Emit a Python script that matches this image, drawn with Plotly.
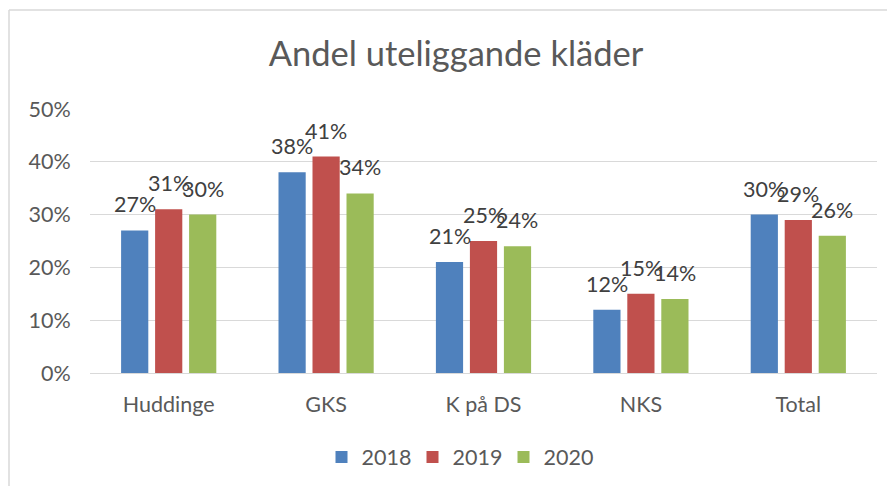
import plotly.graph_objects as go

categories = ["Huddinge", "GKS", "K på DS", "NKS", "Total"]
years = ["2018", "2019", "2020"]
v2018 = [0.27, 0.38, 0.21, 0.12, 0.30]
v2019 = [0.31, 0.41, 0.25, 0.15, 0.29]
v2020 = [0.30, 0.34, 0.24, 0.14, 0.26]
series = [v2018, v2019, v2020]
colors = ["#4f81bd", "#c0504d", "#9bbb59"]
title = "Andel uteliggande kläder"
tick_vals = [0, 0.1, 0.2, 0.3, 0.4, 0.5]
tick_text = ["0%", "10%", "20%", "30%", "40%", "50%"]

FONT = "Lato, 'Open Sans', sans-serif"
W, H = 895, 486
OFF = 8  # page body margin
ML, MR, MT, MB = 90 - OFF, 26, 109 - OFF, 121

fig = go.Figure()
for y, vals, c in zip(years, series, colors):
    fig.add_trace(go.Bar(x=categories, y=vals, name=y, marker=dict(color=c, line=dict(width=0))))

slot = (W - ML - MR) / len(categories) * (1 - 0.352) / 3
annotations = []
for i, vals in enumerate(series):
    for cat, v in zip(categories, vals):
        annotations.append(dict(x=cat, y=v, xref="x", yref="y", text=f"{round(v*100)}%",
                                showarrow=False, yanchor="bottom", xanchor="center",
                                xshift=(i - 1) * slot, yshift=11,
                                font=dict(family=FONT, size=21.5, color="#404040")))

pw, ph = W - ML - MR, H - MT - MB
fig.update_layout(
    width=W, height=H,
    margin=dict(l=ML, r=MR, t=MT, b=MB, autoexpand=False),
    paper_bgcolor="white", plot_bgcolor="white",
    barmode="group", bargap=0.352, bargroupgap=0.2,
    title=dict(text=title, x=(456 - OFF) / W, xanchor="center", y=1 - (54 - OFF) / H, yanchor="middle",
               font=dict(family=FONT, size=34.5, color="#595959")),
    xaxis=dict(tickfont=dict(family=FONT, size=21.5, color="#595959"), showgrid=False,
               showline=True, linecolor="#d9d9d9", linewidth=1, ticks="outside", ticklen=12,
               tickcolor="white"),
    yaxis=dict(range=[0, 0.5], tickvals=tick_vals, ticktext=tick_text,
               tickfont=dict(family=FONT, size=21.5, color="#595959"),
               showgrid=True, gridcolor="#d9d9d9", gridwidth=1, zeroline=False,
               ticks="outside", ticklen=14, tickcolor="white", showline=False),
    legend=dict(orientation="h", x=(458 - OFF - ML) / pw,
                xanchor="center", y=-(457 - OFF - (H - MB)) / ph, yanchor="middle",
                font=dict(family=FONT, size=21.5, color="#595959"),
                itemwidth=30, traceorder="normal", entrywidth=46, entrywidthmode="pixels"),
    annotations=annotations,
    showlegend=True,
)

left = (9 - OFF - ML) / pw
top = 1 + (MT - (10 - OFF)) / ph
bottom = -(MB + 20) / ph
right = 1 + (MR + 20) / pw
fig.add_shape(type="line", xref="paper", yref="paper", x0=left, x1=left, y0=bottom, y1=top,
              line=dict(color="#d9d9d9", width=1.5))
fig.add_shape(type="line", xref="paper", yref="paper", x0=left, x1=right, y0=top, y1=top,
              line=dict(color="#d9d9d9", width=1.5))

fig.write_html("out.html")
